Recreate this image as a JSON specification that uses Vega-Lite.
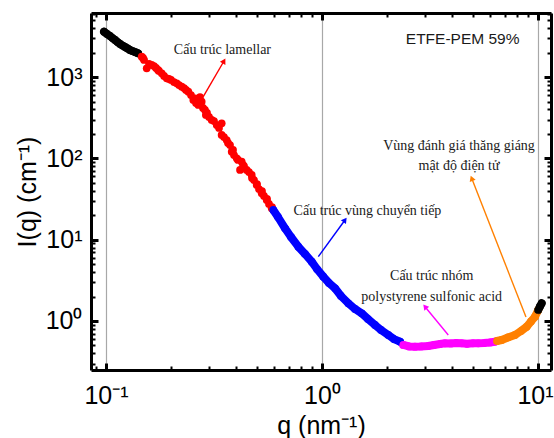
{
  "$schema": "https://vega.github.io/schema/vega-lite/v6.json",
  "width": 460,
  "height": 357,
  "autosize": {"type": "none"},
  "padding": {"left": 91, "top": 13, "right": 3, "bottom": 68},
  "background": "white",
  "config": {"view": {"stroke": null}, "font": "Liberation Sans"},
  "resolve": {"axis": {"x": "independent", "y": "independent"}},
  "datasets": {
    "pts": [
      {"s": "black1", "q": 0.0979, "I": 3617}, {"s": "black1", "q": 0.1011, "I": 3389}, {"s": "black1", "q": 0.1043, "I": 3203},
      {"s": "black1", "q": 0.1072, "I": 3020}, {"s": "black1", "q": 0.1101, "I": 2860}, {"s": "black1", "q": 0.1131, "I": 2700},
      {"s": "black1", "q": 0.1161, "I": 2554}, {"s": "black1", "q": 0.1193, "I": 2440}, {"s": "black1", "q": 0.1225, "I": 2346},
      {"s": "black1", "q": 0.1258, "I": 2250}, {"s": "black1", "q": 0.1291, "I": 2154}, {"s": "black1", "q": 0.1326, "I": 2090},
      {"s": "black1", "q": 0.1362, "I": 2035}, {"s": "black1", "q": 0.1406, "I": 1962},
      {"s": "red", "q": 0.1463, "I": 1782}, {"s": "red", "q": 0.1484, "I": 1718}, {"s": "red", "q": 0.15, "I": 1623},
      {"s": "red", "q": 0.1543, "I": 1283}, {"s": "red", "q": 0.1582, "I": 1449}, {"s": "red", "q": 0.1627, "I": 1409},
      {"s": "red", "q": 0.1668, "I": 1369}, {"s": "red", "q": 0.1704, "I": 1294}, {"s": "red", "q": 0.174, "I": 1223},
      {"s": "red", "q": 0.1759, "I": 1189}, {"s": "red", "q": 0.1811, "I": 1114}, {"s": "red", "q": 0.1856, "I": 1032},
      {"s": "red", "q": 0.191, "I": 967}, {"s": "red", "q": 0.1957, "I": 948}, {"s": "red", "q": 0.2, "I": 921},
      {"s": "red", "q": 0.2064, "I": 870}, {"s": "red", "q": 0.2125, "I": 839}, {"s": "red", "q": 0.2178, "I": 799},
      {"s": "red", "q": 0.2241, "I": 762}, {"s": "red", "q": 0.2297, "I": 734}, {"s": "red", "q": 0.2346, "I": 694},
      {"s": "red", "q": 0.2405, "I": 661}, {"s": "red", "q": 0.2474, "I": 602}, {"s": "red", "q": 0.2536, "I": 523},
      {"s": "red", "q": 0.2582, "I": 548}, {"s": "red", "q": 0.261, "I": 480}, {"s": "red", "q": 0.2676, "I": 454},
      {"s": "red", "q": 0.2723, "I": 569}, {"s": "red", "q": 0.2773, "I": 498}, {"s": "red", "q": 0.2812, "I": 417},
      {"s": "red", "q": 0.2872, "I": 394}, {"s": "red", "q": 0.29, "I": 342}, {"s": "red", "q": 0.2935, "I": 362},
      {"s": "red", "q": 0.2998, "I": 323}, {"s": "red", "q": 0.3085, "I": 297}, {"s": "red", "q": 0.3162, "I": 288},
      {"s": "red", "q": 0.3255, "I": 257}, {"s": "red", "q": 0.3336, "I": 237}, {"s": "red", "q": 0.3432, "I": 270},
      {"s": "red", "q": 0.343, "I": 194}, {"s": "red", "q": 0.3518, "I": 183}, {"s": "red", "q": 0.362, "I": 168},
      {"s": "red", "q": 0.3671, "I": 155}, {"s": "red", "q": 0.3751, "I": 146}, {"s": "red", "q": 0.382, "I": 121},
      {"s": "red", "q": 0.3873, "I": 127}, {"s": "red", "q": 0.3914, "I": 110}, {"s": "red", "q": 0.4029, "I": 100.3},
      {"s": "red", "q": 0.4084, "I": 95.6}, {"s": "red", "q": 0.4248, "I": 91.1}, {"s": "red", "q": 0.4173, "I": 72},
      {"s": "red", "q": 0.4309, "I": 83.0}, {"s": "red", "q": 0.4355, "I": 80.6}, {"s": "red", "q": 0.448, "I": 72},
      {"s": "red", "q": 0.4592, "I": 68.0}, {"s": "red", "q": 0.4727, "I": 62.5}, {"s": "red", "q": 0.4741, "I": 57.4},
      {"s": "red", "q": 0.4843, "I": 54.2}, {"s": "red", "q": 0.4984, "I": 47.1}, {"s": "red", "q": 0.5, "I": 48.4},
      {"s": "red", "q": 0.5107, "I": 42.0}, {"s": "red", "q": 0.5257, "I": 37.2}, {"s": "red", "q": 0.5275, "I": 39.7},
      {"s": "red", "q": 0.5387, "I": 34.5}, {"s": "red", "q": 0.5546, "I": 30.8}, {"s": "red", "q": 0.5564, "I": 31.7},
      {"s": "red", "q": 0.5682, "I": 27.5}, {"s": "red", "q": 0.5869, "I": 25.2}, {"s": "red", "q": 0.585, "I": 24.3},
      {"s": "blue", "q": 0.595, "I": 23.2}, {"s": "blue", "q": 0.6254, "I": 19.02}, {"s": "blue", "q": 0.6742, "I": 13.81},
      {"s": "blue", "q": 0.7186, "I": 10.8}, {"s": "blue", "q": 0.7769, "I": 8.2}, {"s": "blue", "q": 0.834, "I": 6.67},
      {"s": "blue", "q": 0.8961, "I": 5.36}, {"s": "blue", "q": 0.9481, "I": 4.36}, {"s": "blue", "q": 1.014, "I": 3.51},
      {"s": "blue", "q": 1.0775, "I": 2.93}, {"s": "blue", "q": 1.1487, "I": 2.525}, {"s": "blue", "q": 1.2244, "I": 2.03},
      {"s": "blue", "q": 1.3237, "I": 1.651}, {"s": "blue", "q": 1.4215, "I": 1.405}, {"s": "blue", "q": 1.527, "I": 1.244},
      {"s": "blue", "q": 1.633, "I": 1.058}, {"s": "blue", "q": 1.759, "I": 0.893}, {"s": "blue", "q": 1.876, "I": 0.775},
      {"s": "blue", "q": 2.027, "I": 0.673}, {"s": "blue", "q": 2.154, "I": 0.6}, {"s": "blue", "q": 2.297, "I": 0.556},
      {"s": "magenta", "q": 2.379, "I": 0.507}, {"s": "magenta", "q": 2.527, "I": 0.486}, {"s": "magenta", "q": 2.695, "I": 0.483},
      {"s": "magenta", "q": 2.873, "I": 0.486}, {"s": "magenta", "q": 3.105, "I": 0.493}, {"s": "magenta", "q": 3.3, "I": 0.507},
      {"s": "magenta", "q": 3.518, "I": 0.521}, {"s": "magenta", "q": 3.71, "I": 0.532}, {"s": "magenta", "q": 3.956, "I": 0.529},
      {"s": "magenta", "q": 4.173, "I": 0.536}, {"s": "magenta", "q": 4.435, "I": 0.532}, {"s": "magenta", "q": 4.692, "I": 0.524},
      {"s": "magenta", "q": 5.003, "I": 0.532}, {"s": "magenta", "q": 5.293, "I": 0.532}, {"s": "magenta", "q": 5.623, "I": 0.536},
      {"s": "magenta", "q": 5.995, "I": 0.544}, {"s": "magenta", "q": 6.323, "I": 0.556},
      {"s": "orange", "q": 6.457, "I": 0.567}, {"s": "orange", "q": 6.79, "I": 0.584}, {"s": "orange", "q": 7.262, "I": 0.627},
      {"s": "orange", "q": 7.826, "I": 0.673}, {"s": "orange", "q": 8.343, "I": 0.753}, {"s": "orange", "q": 8.866, "I": 0.851},
      {"s": "orange", "q": 9.281, "I": 0.986}, {"s": "orange", "q": 9.685, "I": 1.129}, {"s": "orange", "q": 10.03, "I": 1.366},
      {"s": "black2", "q": 10.03, "I": 1.366}, {"s": "black2", "q": 10.21, "I": 1.508}, {"s": "black2", "q": 10.4, "I": 1.651}
    ],
    "arrows": [
      {"g": "red", "x1": 0.282, "y1": 574, "x2": 0.3518, "y2": 1578},
      {"g": "blue", "x1": 0.9613, "y1": 6.18, "x2": 1.278, "y2": 17.47},
      {"g": "orange", "x1": 8.8, "y1": 1.12, "x2": 4.933, "y2": 56.9},
      {"g": "magenta", "x1": 3.843, "y1": 0.673, "x2": 2.999, "y2": 1.499}
    ],
    "notes": [
      {"t": "Cấu trúc lamellar", "x": 0.346, "y": 2154},
      {"t": "Vùng đánh giá thăng giáng", "x": 4.31, "y": 142},
      {"t": "mật độ điện tử", "x": 4.31, "y": 80.6},
      {"t": "Cấu trúc vùng chuyển tiếp", "x": 1.624, "y": 22.5},
      {"t": "Cấu trúc nhóm", "x": 3.22, "y": 3.58},
      {"t": "polystyrene sulfonic acid", "x": 3.22, "y": 1.973}
    ]
  },
  "layer": [
    {
      "data": {"name": "pts"},
      "transform": [{"filter": "datum.s != 'red'"}],
      "mark": {"type": "line", "strokeWidth": 8, "strokeCap": "round", "strokeJoin": "round"},
      "encoding": {
        "x": {
          "field": "q", "type": "quantitative",
          "scale": {"type": "log", "domain": [0.0852, 11.49], "nice": false},
          "axis": {
            "orient": "bottom",
            "values": [0.09, 0.1, 0.2, 0.3, 0.4, 0.5, 0.6, 0.7, 0.8, 0.9, 1, 2, 3, 4, 5, 6, 7, 8, 9, 10],
            "title": "q (nm⁻¹)", "titleFont": "Liberation Sans", "titleFontSize": 25, "titleFontWeight": "normal", "titleColor": "black", "titlePadding": 2,
            "labelExpr": "datum.value==0.1?'10⁻¹':datum.value==1?'10⁰':datum.value==10?'10¹':''",
            "labelFont": "Liberation Sans", "labelFontSize": 25, "labelColor": "black", "labelBaseline": "middle", "labelPadding": 32,
            "labelOffset": {"condition": {"test": "datum.value==10", "value": -3}, "value": 0},
            "labelOverlap": false, "labelFlush": false, "labelBound": false,
            "domainColor": "black", "domainWidth": 3,
            "tickColor": "black",
            "tickWidth": {"condition": {"test": "datum.value==0.1||datum.value==1||datum.value==10", "value": 3}, "value": 2},
            "tickSize": {"condition": {"test": "datum.value==0.1||datum.value==1||datum.value==10", "value": -7}, "value": -4},
            "grid": true, "gridColor": "#a8a8a8", "gridWidth": 1.2,
            "gridOpacity": {"condition": {"test": "datum.value==0.1||datum.value==1||datum.value==10", "value": 1}, "value": 0}
          }
        },
        "y": {
          "field": "I", "type": "quantitative",
          "scale": {"type": "log", "domain": [0.2496, 6142], "nice": false},
          "axis": {
            "orient": "left",
            "values": [0.3, 0.4, 0.5, 0.6, 0.7, 0.8, 0.9, 1, 2, 3, 4, 5, 6, 7, 8, 9, 10, 20, 30, 40, 50, 60, 70, 80, 90, 100, 200, 300, 400, 500, 600, 700, 800, 900, 1000, 2000, 3000, 4000, 5000, 6000],
            "title": "I(q) (cm⁻¹)", "titleFont": "Liberation Sans", "titleFontSize": 25, "titleFontWeight": "normal", "titleColor": "black", "titlePadding": 5,
            "labelExpr": "datum.value==1?'10⁰':datum.value==10?'10¹':datum.value==100?'10²':datum.value==1000?'10³':''",
            "labelFont": "Liberation Sans", "labelFontSize": 25, "labelColor": "black", "labelPadding": 16,
            "labelOverlap": false, "labelFlush": false, "labelBound": false,
            "domainColor": "black", "domainWidth": 3,
            "tickColor": "black",
            "tickWidth": {"condition": {"test": "datum.value==1||datum.value==10||datum.value==100||datum.value==1000", "value": 3}, "value": 2},
            "tickSize": {"condition": {"test": "datum.value==1||datum.value==10||datum.value==100||datum.value==1000", "value": -7}, "value": -4},
            "grid": false
          }
        },
        "color": {
          "field": "s", "type": "nominal",
          "scale": {"domain": ["black1", "red", "blue", "magenta", "orange", "black2"], "range": ["#000000", "#ff0000", "#0000ff", "#ff00ff", "#ff8000", "#000000"]},
          "legend": null
        },
        "detail": {"field": "s"}
      }
    },
    {
      "data": {"name": "pts"},
      "mark": {"type": "point", "filled": true, "opacity": 1, "size": 60},
      "encoding": {
        "x": {"field": "q", "type": "quantitative", "scale": {"type": "log", "domain": [0.0852, 11.49], "nice": false}, "axis": null},
        "y": {"field": "I", "type": "quantitative", "scale": {"type": "log", "domain": [0.2496, 6142], "nice": false}, "axis": null},
        "color": {"field": "s", "type": "nominal", "legend": null}
      }
    },
    {
      "data": {"name": "arrows"},
      "mark": {"type": "rule", "strokeWidth": 1.4},
      "encoding": {
        "x": {
          "field": "x1", "type": "quantitative",
          "scale": {"type": "log", "domain": [0.0852, 11.49], "nice": false},
          "axis": {
            "orient": "top", "title": null, "labels": false,
            "values": [0.09, 0.1, 0.2, 0.3, 0.4, 0.5, 0.6, 0.7, 0.8, 0.9, 1, 2, 3, 4, 5, 6, 7, 8, 9, 10],
            "domainColor": "black", "domainWidth": 3, "tickColor": "black",
            "tickWidth": {"condition": {"test": "datum.value==0.1||datum.value==1||datum.value==10", "value": 3}, "value": 2},
            "tickSize": {"condition": {"test": "datum.value==0.1||datum.value==1||datum.value==10", "value": -7}, "value": -4},
            "grid": false
          }
        },
        "y": {
          "field": "y1", "type": "quantitative",
          "scale": {"type": "log", "domain": [0.2496, 6142], "nice": false},
          "axis": {
            "orient": "right", "title": null, "labels": false,
            "values": [0.3, 0.4, 0.5, 0.6, 0.7, 0.8, 0.9, 1, 2, 3, 4, 5, 6, 7, 8, 9, 10, 20, 30, 40, 50, 60, 70, 80, 90, 100, 200, 300, 400, 500, 600, 700, 800, 900, 1000, 2000, 3000, 4000, 5000, 6000],
            "domainColor": "black", "domainWidth": 3, "tickColor": "black",
            "tickWidth": {"condition": {"test": "datum.value==1||datum.value==10||datum.value==100||datum.value==1000", "value": 3}, "value": 2},
            "tickSize": {"condition": {"test": "datum.value==1||datum.value==10||datum.value==100||datum.value==1000", "value": -7}, "value": -4},
            "grid": false
          }
        },
        "x2": {"field": "x2"},
        "y2": {"field": "y2"},
        "color": {"field": "g", "type": "nominal", "legend": null}
      }
    },
    {
      "data": {"name": "arrows"},
      "transform": [{"filter": "datum.g == 'red'"}],
      "mark": {"type": "point", "shape": "triangle-up", "filled": true, "opacity": 1, "size": 40, "angle": 30},
      "encoding": {
        "x": {"field": "x2", "type": "quantitative", "scale": {"type": "log", "domain": [0.0852, 11.49], "nice": false}, "axis": null},
        "y": {"field": "y2", "type": "quantitative", "scale": {"type": "log", "domain": [0.2496, 6142], "nice": false}, "axis": null},
        "color": {"field": "g", "type": "nominal", "legend": null}
      }
    },
    {
      "data": {"name": "arrows"},
      "transform": [{"filter": "datum.g == 'blue'"}],
      "mark": {"type": "point", "shape": "triangle-up", "filled": true, "opacity": 1, "size": 40, "angle": 36},
      "encoding": {
        "x": {"field": "x2", "type": "quantitative", "scale": {"type": "log", "domain": [0.0852, 11.49], "nice": false}, "axis": null},
        "y": {"field": "y2", "type": "quantitative", "scale": {"type": "log", "domain": [0.2496, 6142], "nice": false}, "axis": null},
        "color": {"field": "g", "type": "nominal", "legend": null}
      }
    },
    {
      "data": {"name": "arrows"},
      "transform": [{"filter": "datum.g == 'orange'"}],
      "mark": {"type": "point", "shape": "triangle-up", "filled": true, "opacity": 1, "size": 40, "angle": 338.6},
      "encoding": {
        "x": {"field": "x2", "type": "quantitative", "scale": {"type": "log", "domain": [0.0852, 11.49], "nice": false}, "axis": null},
        "y": {"field": "y2", "type": "quantitative", "scale": {"type": "log", "domain": [0.2496, 6142], "nice": false}, "axis": null},
        "color": {"field": "g", "type": "nominal", "legend": null}
      }
    },
    {
      "data": {"name": "arrows"},
      "transform": [{"filter": "datum.g == 'magenta'"}],
      "mark": {"type": "point", "shape": "triangle-up", "filled": true, "opacity": 1, "size": 40, "angle": 320.5},
      "encoding": {
        "x": {"field": "x2", "type": "quantitative", "scale": {"type": "log", "domain": [0.0852, 11.49], "nice": false}, "axis": null},
        "y": {"field": "y2", "type": "quantitative", "scale": {"type": "log", "domain": [0.2496, 6142], "nice": false}, "axis": null},
        "color": {"field": "g", "type": "nominal", "legend": null}
      }
    },
    {
      "data": {"name": "notes"},
      "mark": {"type": "text", "font": "Liberation Serif", "fontSize": 14, "color": "#1a1a1a", "align": "center", "baseline": "middle"},
      "encoding": {
        "x": {"field": "x", "type": "quantitative", "scale": {"type": "log", "domain": [0.0852, 11.49], "nice": false}, "axis": null},
        "y": {"field": "y", "type": "quantitative", "scale": {"type": "log", "domain": [0.2496, 6142], "nice": false}, "axis": null},
        "text": {"field": "t"}
      }
    },
    {
      "data": {"values": [{"t": "ETFE-PEM 59%", "x": 4.48, "y": 2900}]},
      "mark": {"type": "text", "font": "Liberation Sans", "fontSize": 15.5, "color": "#1a1a1a", "align": "center", "baseline": "middle"},
      "encoding": {
        "x": {"field": "x", "type": "quantitative", "scale": {"type": "log", "domain": [0.0852, 11.49], "nice": false}, "axis": null},
        "y": {"field": "y", "type": "quantitative", "scale": {"type": "log", "domain": [0.2496, 6142], "nice": false}, "axis": null},
        "text": {"field": "t"}
      }
    }
  ]
}
